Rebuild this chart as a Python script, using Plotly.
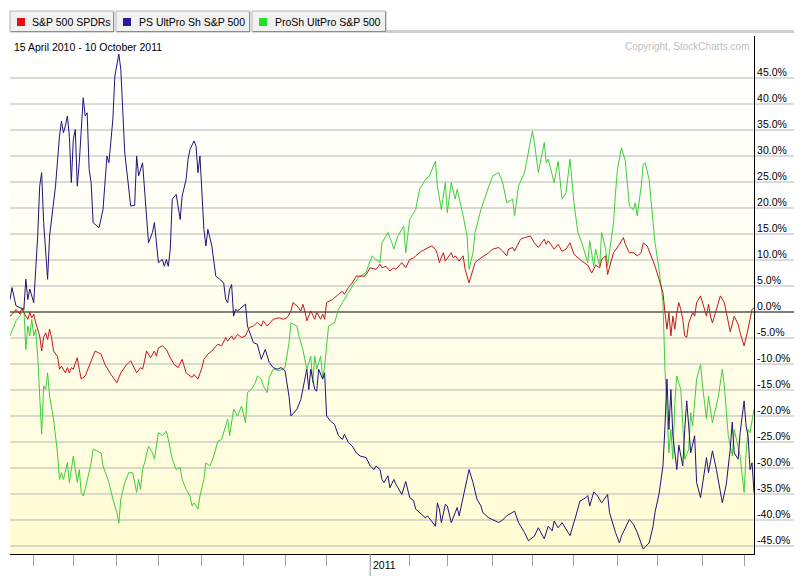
import pandas as pd
import plotly.graph_objects as go

# ---------------- data (trading-day index since 15 Apr 2010, % change) ----------------
holidays = ["2010-05-31", "2010-07-05", "2010-09-06", "2010-11-25", "2010-12-24",
            "2011-01-17", "2011-02-21", "2011-04-22", "2011-05-30", "2011-07-04", "2011-09-05"]

spy_idx = [0, 2, 3, 5, 6, 7, 9, 10, 11, 12, 13, 15, 16, 17, 18, 19, 20, 21, 22, 24, 25, 26, 28, 29, 30, 31, 32,
           34, 35, 36, 38, 39, 41, 43, 46, 48, 51, 54, 56, 59, 61, 63, 64, 66, 67, 68, 69, 71, 73, 74, 75, 77, 79,
           81, 83, 85, 87, 88, 89, 92, 93, 95, 97, 98, 100, 102, 105, 107, 109, 110, 112, 113, 115, 117, 119, 120,
           121, 123, 125, 127, 128, 130, 132, 133, 136, 138, 140, 142, 143, 145, 147, 148, 149, 150, 152, 154, 155,
           157, 158, 159, 160, 163, 166, 168, 169, 171, 173, 175, 179, 180, 182, 185, 187, 188, 190, 192, 194, 195,
           198, 200, 202, 204, 205, 208, 210, 213, 215, 216, 217, 219, 220, 223, 224, 225, 227, 229, 230, 232, 234,
           235, 238, 242, 244, 247, 249, 251, 252, 254, 255, 258, 260, 263, 265, 267, 270, 271, 272, 275, 277, 279,
           281, 283, 285, 287, 289, 292, 294, 296, 298, 299, 301, 302, 305, 308, 310, 311, 313, 315, 317, 319, 320,
           322, 324, 326, 328, 330, 331, 332, 333, 334, 335, 336, 337, 338, 339, 340, 341, 342, 343, 345, 346, 347,
           349, 350, 352, 353, 354, 355, 357, 359, 361, 362, 364, 366, 368, 369, 371, 373, 374, 375, 376]
spy_val = [-0.8, -0.1, 0.5, -0.4, 0.8, -0.1, -1.4, -0.1, -1.1, -0.4, -2.1, -4.6, -7.5, -4.9, -4.0, -5.3, -3.3, -4.9,
           -7.5, -8.5, -11.0, -10.4, -11.7, -10.7, -11.7, -10.7, -11.0, -8.8, -11.0, -12.9, -12.3, -11.3, -9.4, -7.5,
           -8.1, -10.1, -12.0, -13.6, -11.7, -10.1, -9.4, -11.0, -11.7, -10.7, -11.0, -9.4, -7.5, -8.8, -7.5, -8.5,
           -6.9, -6.5, -7.2, -8.8, -10.1, -10.7, -9.1, -10.4, -11.7, -12.6, -12.0, -12.9, -10.7, -9.1, -8.1, -7.5,
           -6.2, -6.5, -4.9, -5.6, -4.6, -5.3, -4.3, -4.9, -4.6, -3.7, -3.0, -2.7, -2.0, -2.7, -1.7, -2.7, -1.7, -1.4,
           -1.1, -1.4, -1.1, 0.2, 1.8, 1.2, 0.2, 1.5, 0.2, -1.7, 0.2, -1.4, -0.1, -1.4, -0.4, -1.4, 1.8, 2.4, 3.4,
           4.0, 3.4, 4.7, 5.6, 6.9, 6.9, 7.2, 8.5, 8.2, 9.2, 8.5, 8.8, 7.9, 8.5, 8.2, 9.5, 8.5, 10.1, 10.4, 10.8,
           11.7, 12.1, 12.7, 12.1, 11.1, 9.5, 11.4, 9.8, 11.4, 10.4, 10.8, 9.8, 10.8, 8.2, 5.6, 8.2, 9.5, 10.4, 11.4,
           12.1, 12.4, 11.7, 10.8, 12.1, 12.4, 11.7, 14.0, 14.3, 14.6, 13.3, 12.4, 14.0, 13.0, 13.7, 12.1, 13.0,
           11.7, 12.1, 13.3, 11.1, 10.4, 9.8, 9.0, 7.5, 9.0, 8.5, 10.1, 10.8, 7.2, 11.4, 13.0, 14.3, 13.0, 11.4,
           11.4, 10.8, 11.4, 13.3, 12.7, 10.8, 8.8, 6.3, 3.7, -0.1, -3.3, -0.1, -4.6, -0.8, -3.3, -0.1, 1.8, 0.5,
           -1.4, -4.6, -4.9, -2.1, -0.1, -0.8, 1.8, 3.1, 1.8, -0.8, 1.5, -0.8, -2.1, 0.5, 3.1, 1.8, -0.1, -3.8,
           -0.8, -2.4, -4.0, -6.5, -3.3, -1.4, 0.5, 0.8]

sds_idx = [0, 1, 3, 7, 8, 9, 10, 12, 13, 14, 15, 16, 17, 18, 19, 20, 22, 23, 25, 26, 27, 28, 29, 30, 31, 32, 33, 34,
           35, 36, 37, 38, 39, 40, 41, 42, 45, 47, 49, 50, 52, 53, 55, 56, 57, 58, 61, 63, 64, 65, 67, 68, 69, 70,
           72, 73, 74, 75, 77, 78, 79, 80, 81, 82, 84, 86, 87, 89, 90, 91, 93, 94, 95, 96, 97, 98, 99, 100, 102,
           104, 106, 108, 109, 110, 111, 112, 113, 114, 115, 117, 119, 120, 122, 123, 125, 127, 129, 131, 133, 135,
           137, 139, 141, 142, 145, 147, 149, 150, 151, 152, 154, 155, 156, 158, 159, 160, 162, 164, 166, 168, 169,
           171, 173, 175, 177, 180, 182, 184, 185, 187, 188, 189, 191, 192, 194, 195, 198, 200, 202, 204, 205, 207,
           210, 211, 215, 216, 217, 218, 220, 221, 223, 225, 226, 227, 229, 230, 232, 234, 236, 238, 239, 242, 244,
           247, 249, 251, 255, 257, 260, 262, 265, 267, 270, 272, 274, 275, 277, 279, 282, 283, 286, 288, 291, 292,
           293, 295, 297, 299, 302, 303, 306, 308, 309, 311, 313, 315, 317, 320, 323, 325, 326, 328, 330, 331, 332,
           333, 334, 335, 336, 337, 338, 340, 341, 342, 343, 344, 346, 347, 349, 350, 352, 353, 355, 357, 358, 360,
           362, 364, 365, 366, 368, 369, 371, 372, 373, 374, 375, 376]
sds_val = [2.4, 4.7, 1.2, 0.5, 6.3, 2.4, 4.4, 1.8, 8.2, 14.6, 24.2, 26.8, 17.2, 10.8, 6.3, 14.6, 21.0, 24.2, 33.8,
           36.7, 34.5, 35.8, 37.7, 33.8, 24.9, 33.2, 35.1, 24.2, 28.7, 35.8, 41.2, 37.7, 38.3, 27.4, 24.9, 17.2,
           16.2, 19.7, 30.0, 28.7, 37.1, 45.4, 49.6, 46.7, 37.1, 30.6, 20.4, 20.5, 30.0, 26.2, 28.7, 22.9, 17.2,
           13.3, 15.3, 17.2, 13.3, 9.5, 10.1, 8.8, 10.1, 8.8, 12.1, 21.7, 22.6, 17.8, 22.3, 25.5, 29.4, 31.3, 32.9,
           31.9, 26.8, 30.0, 22.9, 15.9, 12.7, 15.9, 12.7, 6.9, 6.3, 5.6, 2.4, 1.8, 4.4, 5.3, -0.8, 0.5, 0.2, 0.8,
           1.5, -2.7, -4.6, -5.9, -6.2, -9.1, -7.2, -9.7, -10.7, -11.0, -10.7, -11.3, -16.2, -20.0, -18.7, -16.8,
           -12.9, -11.0, -14.9, -11.0, -14.9, -15.2, -11.0, -12.9, -11.7, -20.0, -21.0, -21.6, -23.8, -24.5, -23.5,
           -25.1, -25.8, -27.1, -27.7, -28.0, -29.6, -30.3, -29.6, -30.3, -32.2, -32.8, -31.5, -33.8, -32.2, -33.1,
           -35.1, -32.6, -35.7, -36.3, -37.9, -38.6, -39.6, -39.2, -41.2, -36.7, -37.9, -40.5, -37.0, -37.3, -40.5,
           -38.6, -37.6, -39.2, -35.7, -34.4, -30.3, -32.8, -36.0, -37.3, -38.6, -39.6, -39.9, -40.5, -40.0, -39.2,
           -38.3, -40.5, -42.4, -44.0, -43.1, -41.5, -43.6, -41.2, -42.1, -40.2, -41.5, -40.5, -42.4, -43.0, -39.2,
           -36.4, -35.7, -35.3, -37.3, -34.6, -35.4, -36.7, -35.1, -38.6, -42.4, -44.4, -43.1, -41.5, -39.9, -40.8,
           -42.4, -45.6, -44.4, -41.2, -38.5, -35.0, -29.6, -22.0, -12.9, -22.6, -14.9, -23.8, -27.1, -30.3, -25.6,
           -29.6, -22.6, -17.1, -21.9, -27.1, -23.8, -32.8, -35.7, -32.8, -28.0, -30.9, -26.7, -30.3, -32.5, -36.7,
           -33.1, -26.3, -21.2, -27.1, -28.3, -23.2, -17.1, -21.9, -23.8, -30.3, -29.0, -34.7]

sso_idx = [0, 2, 3, 5, 6, 7, 8, 9, 10, 11, 12, 13, 14, 15, 16, 17, 18, 19, 20, 22, 24, 25, 26, 27, 29, 30, 31, 32,
           34, 35, 36, 37, 38, 41, 42, 46, 47, 50, 52, 54, 55, 56, 58, 60, 62, 63, 64, 65, 66, 67, 68, 70, 72, 73,
           74, 75, 77, 79, 80, 82, 84, 86, 87, 89, 91, 92, 93, 95, 96, 98, 99, 101, 103, 105, 107, 109, 110, 111,
           113, 115, 117, 119, 120, 122, 124, 125, 127, 128, 130, 131, 133, 136, 139, 141, 142, 145, 146, 148, 150,
           152, 153, 154, 155, 157, 158, 159, 160, 161, 164, 166, 168, 170, 174, 177, 180, 181, 183, 185, 187, 188,
           191, 193, 194, 196, 199, 200, 202, 205, 207, 210, 212, 215, 216, 218, 220, 221, 223, 225, 226, 229, 231,
           232, 234, 235, 238, 242, 244, 247, 249, 251, 254, 255, 257, 260, 262, 264, 265, 267, 270, 271, 272, 275,
           277, 279, 281, 283, 285, 287, 289, 292, 293, 295, 296, 298, 299, 301, 302, 305, 306, 307, 309, 311, 313,
           315, 316, 317, 319, 320, 321, 323, 325, 326, 328, 329, 330, 331, 332, 333, 334, 335, 336, 337, 339, 340,
           341, 343, 344, 345, 347, 349, 350, 352, 353, 355, 358, 360, 361, 363, 365, 366, 368, 369, 371, 372, 373,
           374, 376]
sso_val = [-4.6, -2.7, -1.7, -0.8, -0.1, 0.8, -7.2, -2.7, -4.6, -1.4, -4.6, -3.3, -8.5, -17.4, -23.5, -14.2, -14.9,
           -11.7, -16.2, -20.6, -27.1, -32.2, -30.9, -32.2, -29.0, -32.8, -30.3, -27.7, -32.8, -30.3, -34.7, -35.4,
           -34.1, -29.0, -26.4, -27.1, -29.6, -32.8, -36.0, -38.6, -40.6, -36.0, -32.8, -30.9, -30.9, -32.8, -34.7,
           -32.2, -34.1, -30.3, -29.0, -25.8, -27.1, -28.3, -25.8, -23.2, -23.8, -22.9, -24.5, -28.3, -30.3, -29.9,
           -32.2, -34.1, -35.4, -37.3, -36.7, -37.9, -35.4, -32.2, -29.0, -29.6, -27.7, -24.9, -24.5, -21.9, -20.6,
           -23.8, -18.7, -20.0, -18.1, -21.3, -15.5, -14.9, -13.6, -12.3, -12.9, -14.2, -15.5, -12.6, -11.0, -11.3,
           -10.7, -5.9, -2.1, -2.7, -4.6, -7.2, -11.0, -8.5, -13.6, -8.5, -11.0, -8.5, -12.9, -10.4, -5.9, -2.7,
           -2.1, 0.5, 1.8, 3.1, 5.6, 6.9, 7.6, 8.8, 10.8, 10.1, 9.5, 13.3, 15.3, 13.3, 12.1, 14.6, 16.5, 11.4, 17.8,
           19.7, 23.6, 25.5, 26.2, 29.0, 24.2, 19.7, 24.9, 19.1, 24.9, 21.7, 23.6, 18.5, 14.6, 8.2, 11.4, 15.3,
           19.7, 24.2, 26.2, 26.8, 24.9, 21.0, 21.7, 18.5, 24.2, 26.8, 30.6, 34.8, 32.6, 26.8, 32.6, 28.7, 29.4,
           24.9, 29.0, 21.7, 22.9, 29.4, 21.0, 15.3, 13.3, 9.5, 13.7, 8.8, 12.1, 8.8, 15.3, 12.1, 8.8, 17.2, 22.9,
           27.4, 31.6, 29.0, 20.4, 19.7, 21.0, 18.5, 24.2, 28.4, 28.7, 25.5, 17.2, 13.3, 8.2, 4.4, 2.0, -11.0,
           -20.6, -27.1, -22.6, -28.3, -17.4, -12.3, -14.9, -21.3, -28.3, -26.4, -19.4, -21.9, -12.9, -10.1, -14.2,
           -20.6, -16.2, -21.3, -16.2, -11.0, -14.2, -23.8, -27.7, -22.6, -25.8, -27.7, -34.7, -27.1, -22.6, -23.2,
           -18.7]

series_names = ["S&P 500 SPDRs", "PS UltPro Sh S&P 500", "ProSh UltPro S&P 500"]
y_ticks = [-45, -40, -35, -30, -25, -20, -15, -10, -5, 0, 5, 10, 15, 20, 25, 30, 35, 40, 45]
date_label = "15 April 2010 - 10 October 2011"
copyright_label = "Copyright, StockCharts.com"
year_label = "2011"

# ---------------- derived calendar (trading days) ----------------
tdays = [d for d in pd.bdate_range("2010-04-15", "2011-10-10") if d.strftime("%Y-%m-%d") not in holidays]
n_days = len(tdays)
month_starts = [i for i in range(1, n_days) if tdays[i].month != tdays[i - 1].month]
jan_idx = [i for i in month_starts if tdays[i].month == 1][0]

# ---------------- geometry / style ----------------
PAGE_W, PAGE_H = 802, 576
OFF = 8                               # default body margin of the written html page
W, H = PAGE_W - OFF, PAGE_H - OFF     # figure size so that it exactly fills the window
L, R, T, B = 10, 754, 36, 554         # plot area in page pixels
Y_MIN, Y_MAX = -46.54, 53.08
X_MIN, X_MAX = 0, n_days - 1
FONT = "Liberation Sans, Arial, sans-serif"

line_colors = ["#c0181c", "#22127a", "#3ccf3c"]
legend_colors = ["#e3101a", "#2a1aa0", "#22e022"]


def px(X):
    return (X - L) / (R - L)


def py(Y):
    return (B - Y) / (B - T)


def yv(v):
    return (v - Y_MIN) / (Y_MAX - Y_MIN)


fig = go.Figure()
for idx, val, col, name in [(sso_idx, sso_val, line_colors[2], series_names[2]),
                            (sds_idx, sds_val, line_colors[1], series_names[1]),
                            (spy_idx, spy_val, line_colors[0], series_names[0])]:
    fig.add_trace(go.Scatter(x=idx, y=val, mode="lines", name=name,
                             line=dict(color=col, width=1), showlegend=False,
                             hoverinfo="skip"))

shapes = []
# background gradient (white at top -> pale yellow at bottom)
nb = 74
for k in range(nb):
    y0 = T + (B - T) * k / nb
    y1 = T + (B - T) * (k + 1) / nb
    t = ((y0 + y1) / 2 - T) / (B - T)
    t2 = t ** 1.4
    g = round(255 - 3 * t2)
    b = round(255 - 46 * t2)
    shapes.append(dict(type="rect", xref="paper", yref="paper", x0=0, x1=1,
                       y0=py(y1), y1=py(y0), fillcolor=f"rgb(255,{g},{b})",
                       line=dict(width=0), layer="below"))
# horizontal grid lines extending under the labels
for v in y_ticks:
    shapes.append(dict(type="line", xref="paper", yref="paper", x0=0, x1=px(795),
                       y0=yv(v), y1=yv(v),
                       line=dict(color="#000000" if v == 0 else "#b6b6b6", width=1),
                       layer="below"))
# longer year tick
shapes.append(dict(type="line", xref="paper", yref="paper",
                   x0=(jan_idx - X_MIN) / (X_MAX - X_MIN), x1=(jan_idx - X_MIN) / (X_MAX - X_MIN),
                   y0=0, y1=py(576), line=dict(color="#a0a0a0", width=1)))
# header baseline right of the tabs
shapes.append(dict(type="rect", xref="paper", yref="paper", x0=px(386), x1=px(802),
                   y0=py(33), y1=py(30), fillcolor="#cfcfcf", line=dict(width=0)))

# legend tabs
tabs = [(10, 114, 17, 30), (116, 250, 123, 137), (252, 386, 259, 273)]
annotations = []
for (x0, x1, sq, tx), col, name in zip(tabs, legend_colors, series_names):
    shapes.append(dict(type="rect", xref="paper", yref="paper", x0=px(x0), x1=px(x1),
                       y0=py(32), y1=py(11), fillcolor="#f1f1f1",
                       line=dict(color="#b4b4b4", width=1)))
    shapes.append(dict(type="line", xref="paper", yref="paper", x0=px(x0 + 1), x1=px(x1),
                       y0=py(31.5), y1=py(31.5), line=dict(color="#8c8c8c", width=1)))
    shapes.append(dict(type="line", xref="paper", yref="paper", x0=px(x1 - 0.5), x1=px(x1 - 0.5),
                       y0=py(31.5), y1=py(12), line=dict(color="#8c8c8c", width=1)))
    shapes.append(dict(type="rect", xref="paper", yref="paper", x0=px(sq), x1=px(sq + 8),
                       y0=py(26), y1=py(18), fillcolor=col, line=dict(width=0)))
    annotations.append(dict(text=name, xref="paper", yref="paper", x=px(tx), y=py(22.5),
                            xanchor="left", yanchor="middle", showarrow=False,
                            font=dict(family=FONT, size=10.5, color="#000000")))

annotations.append(dict(text=date_label, xref="paper", yref="paper", x=px(12), y=py(47),
                        xanchor="left", yanchor="middle", showarrow=False,
                        font=dict(family=FONT, size=10.5, color="#000000")))
annotations.append(dict(text=copyright_label, xref="paper", yref="paper", x=px(752), y=py(47),
                        xanchor="right", yanchor="middle", showarrow=False,
                        font=dict(family=FONT, size=10, color="#bdbdbd")))
annotations.append(dict(text=year_label, xref="x", yref="paper", x=jan_idx, y=0,
                        xanchor="left", yanchor="middle", xshift=1, yshift=-11, showarrow=False,
                        font=dict(family=FONT, size=10.5, color="#000000")))

fig.update_layout(
    width=W, height=H,
    margin=dict(l=L - OFF, r=PAGE_W - R, t=T - OFF, b=PAGE_H - B, pad=0),
    paper_bgcolor="#ffffff", plot_bgcolor="#ffffff",
    shapes=shapes, annotations=annotations,
    xaxis=dict(range=[X_MIN, X_MAX], showgrid=False, zeroline=False,
               showline=True, linecolor="#000000", linewidth=1,
               tickmode="array", tickvals=month_starts, ticks="outside", ticklen=11,
               tickcolor="#a0a0a0", tickwidth=1, showticklabels=False, fixedrange=True),
    yaxis=dict(range=[Y_MIN, Y_MAX], side="right", showgrid=False, zeroline=False,
               showline=True, linecolor="#000000", linewidth=1,
               tickmode="array", tickvals=y_ticks, ticktext=[f"{v:.1f}%" for v in y_ticks],
               ticks="", ticklabelshift=-6, ticklabelstandoff=0,
               tickfont=dict(family=FONT, size=10.5, color="#000000"), fixedrange=True),
    hovermode=False,
)

fig.write_html("out.html")
